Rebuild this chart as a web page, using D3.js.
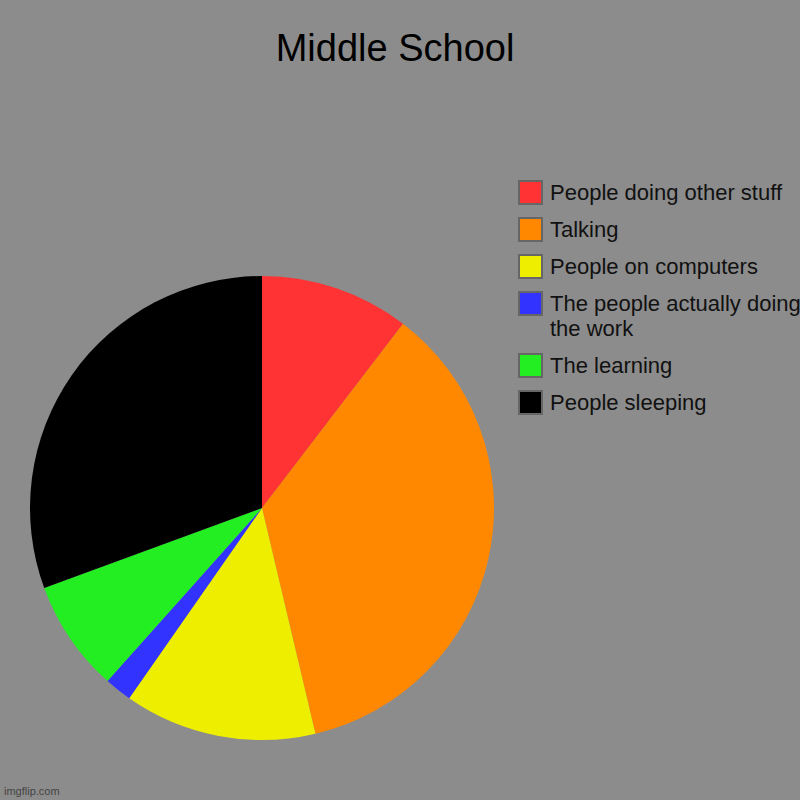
<!DOCTYPE html>
<html>
<head>
<meta charset="utf-8">
<script src="https://d3js.org/d3.v7.min.js"></script>
<style>
  body { margin: 0; background: #8c8c8c; }
  svg { display: block; font-family: "Liberation Sans", Arial, sans-serif; }
</style>
</head>
<body>
<div id="chart"></div>
<script>
const labels = ["People doing other stuff", "Talking", "People on computers",
  "The people actually doing the work", "The learning", "People sleeping"];
const values = [10.4, 35.9, 13.4, 1.9, 7.8, 30.6];
const colors = ["#ff3333", "#ff8800", "#eeee00", "#3333ff", "#22ee22", "#000000"];

const width = 800, height = 800;
const svg = d3.select("#chart").append("svg")
    .attr("width", width)
    .attr("height", height);

svg.append("rect").attr("width", width).attr("height", height).attr("fill", "#8c8c8c");

svg.append("text")
    .attr("x", 395).attr("y", 61)
    .attr("text-anchor", "middle")
    .attr("font-size", 38)
    .attr("fill", "#000")
    .text("Middle School");

const pie = d3.pie().sort(null).value(d => d);
const arc = d3.arc().innerRadius(0).outerRadius(232);

const g = svg.append("g").attr("transform", "translate(262,508)");
g.selectAll("path")
  .data(pie(values))
  .join("path")
    .attr("d", arc)
    .attr("fill", (d, i) => colors[i]);

// legend, long labels wrap onto a second line
const wrapped = labels.map(l => l.length > 30 ? ["The people actually doing", "the work"] : [l]);
let y = 181;
const legend = svg.append("g");
labels.forEach((l, i) => {
  legend.append("rect")
    .attr("x", 519).attr("y", y)
    .attr("width", 23).attr("height", 23)
    .attr("fill", colors[i])
    .attr("stroke", "#666").attr("stroke-width", 2);
  const t = legend.append("text")
    .attr("x", 550).attr("y", y + 19)
    .attr("font-size", 22).attr("fill", "#111");
  wrapped[i].forEach((line, j) => {
    t.append("tspan").attr("x", 550).attr("dy", j ? 25 : 0).text(line);
  });
  y += 37 + (wrapped[i].length - 1) * 25;
});

svg.append("text")
    .attr("x", 4).attr("y", 795)
    .attr("font-size", 11).attr("fill", "#444")
    .text("imgflip.com");
</script>
</body>
</html>
